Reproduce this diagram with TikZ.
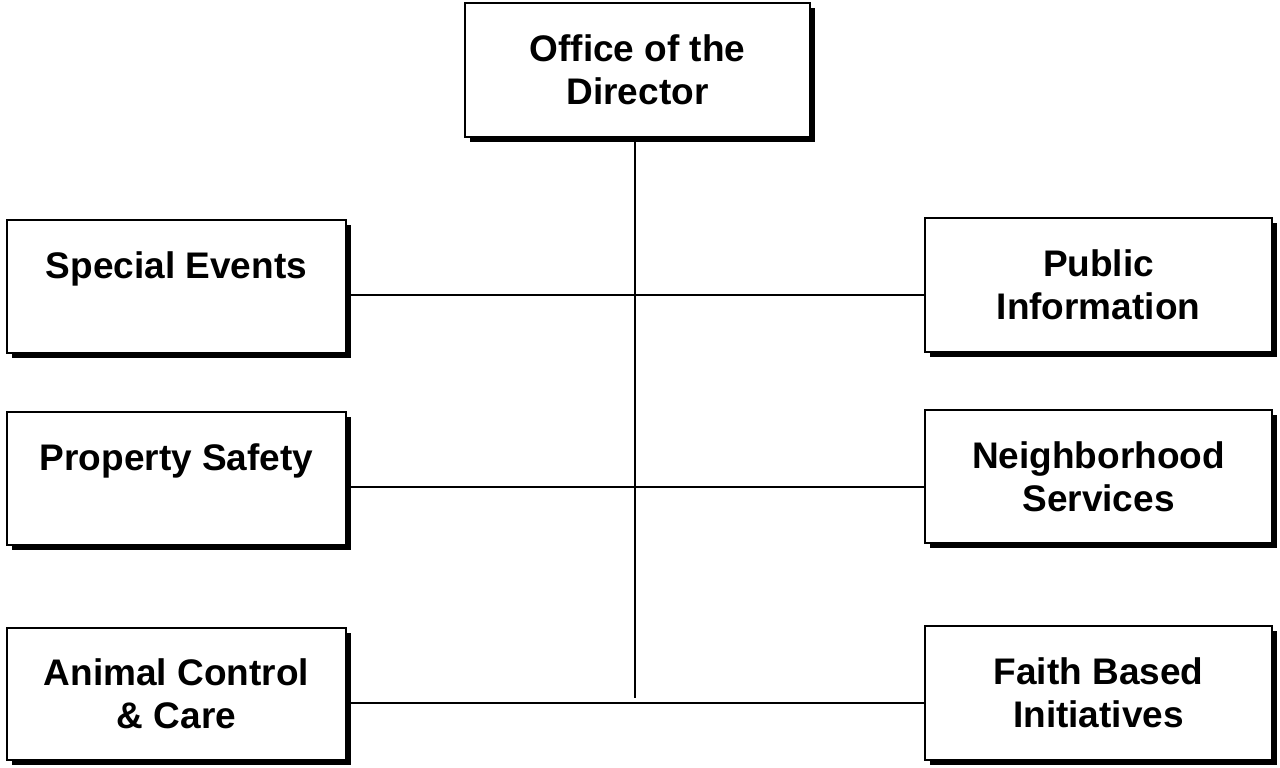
\documentclass[tikz,border=0pt]{standalone}
\usepackage{fontspec}
\setmainfont{Liberation Sans}
\usetikzlibrary{shadows}
\begin{document}
\begin{tikzpicture}[x=1pt,y=-1pt,
  box/.style={rectangle,draw=black,line width=1.6pt,fill=white,inner sep=0pt,
    align=center,font=\bfseries\fontsize{37}{43}\selectfont,
    drop shadow={shadow xshift=5pt,shadow yshift=-5pt,fill=black,opacity=1}},
  conn/.style={draw=black,line width=1.3pt}]
\useasboundingbox (0,0) rectangle (1280,768);
\node[box,minimum width=345pt,minimum height=134pt] (dir) at (637.5,70) {Office of the\\Director};
\node[box,minimum width=339pt,minimum height=133pt] (se) at (176.5,286.5) {Special Events\\\mbox{}};
\node[box,minimum width=347pt,minimum height=134pt] (pi) at (1098.5,285) {Public\\Information};
\node[box,minimum width=339pt,minimum height=133pt] (ps) at (176.5,478.5) {Property Safety\\\mbox{}};
\node[box,minimum width=347pt,minimum height=133pt] (ns) at (1098.5,476.5) {Neighborhood\\Services};
\node[box,minimum width=339pt,minimum height=132pt] (ac) at (176.5,694) {Animal Control\\\& Care};
\node[box,minimum width=347pt,minimum height=134pt] (fb) at (1098.5,693) {Faith Based\\Initiatives};
\coordinate (h1) at (635,295);
\coordinate (h2) at (635,487);
\coordinate (h3) at (635,703);
\coordinate (vb) at (635,698);
\draw[conn] (dir.south -| vb) -- (vb);
\draw[conn] (h1 -| se.east) -- (h1 -| pi.west);
\draw[conn] (h2 -| ps.east) -- (h2 -| ns.west);
\draw[conn] (h3 -| ac.east) -- (h3 -| fb.west);
\end{tikzpicture}
\end{document}
